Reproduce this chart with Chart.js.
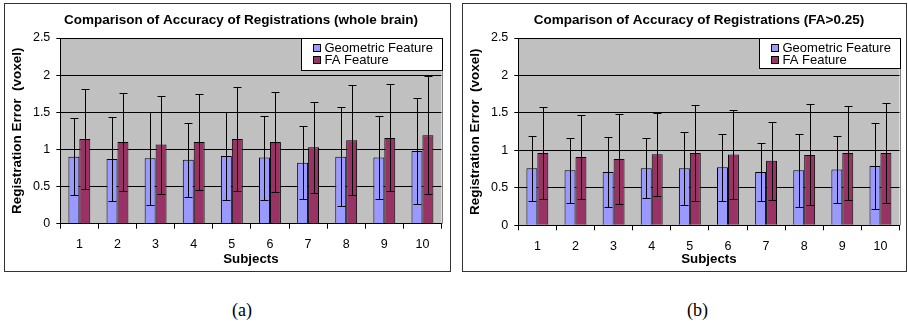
<!DOCTYPE html>
<html>
<head>
<meta charset="utf-8">
<title>Comparison of Accuracy of Registrations</title>
<script src="https://cdn.jsdelivr.net/npm/chart.js@4.4.0/dist/chart.umd.min.js"></script>
<style>
    body { margin: 0; background: #fff; width: 908px; height: 325px; position: relative; overflow: hidden; }
    .box { position: absolute; top: 3px; height: 269px; border: 1px solid #333; box-sizing: border-box; }
    .box canvas { position: absolute; left: 0; top: 0; }
    .caption { position: absolute; top: 300px; font: 18px "Liberation Serif", "Times New Roman", serif; color: #000; }
</style>
</head>
<body>
<div class="box" style="left:4px;width:447px;"><canvas id="chartA" width="445" height="267"></canvas></div>
<div class="box" style="left:462px;width:445px;"><canvas id="chartB" width="443" height="267"></canvas></div>
<div class="caption" style="left:232px;">(a)</div>
<div class="caption" style="left:687px;">(b)</div>

<script>
// --- Datos ---
const subjects = ['1', '2', '3', '4', '5', '6', '7', '8', '9', '10'];
const seriesNames = ['Geometric Feature', 'FA Feature'];

// (a) whole brain
const wholeGeoMean = [0.90, 0.87, 0.88, 0.86, 0.91, 0.89, 0.82, 0.90, 0.89, 0.98];
const wholeGeoSd   = [0.52, 0.56, 0.63, 0.50, 0.595, 0.565, 0.49, 0.665, 0.56, 0.71];
const wholeFaMean  = [1.14, 1.10, 1.065, 1.10, 1.14, 1.10, 1.03, 1.125, 1.155, 1.19];
const wholeFaSd    = [0.67, 0.655, 0.66, 0.64, 0.70, 0.67, 0.615, 0.745, 0.72, 0.795];

// (b) FA>0.25
const faGeoMean = [0.76, 0.735, 0.71, 0.76, 0.76, 0.775, 0.71, 0.735, 0.745, 0.79];
const faGeoSd   = [0.435, 0.435, 0.47, 0.40, 0.49, 0.45, 0.39, 0.49, 0.445, 0.57];
const faFaMean  = [0.965, 0.91, 0.885, 0.95, 0.965, 0.945, 0.86, 0.94, 0.965, 0.965];
const faFaSd    = [0.615, 0.565, 0.60, 0.555, 0.636, 0.60, 0.52, 0.675, 0.63, 0.665];

const yTicks = [0, 0.5, 1, 1.5, 2, 2.5];
const yTickLabels = ['0', '0.5', '1', '1.5', '2', '2.5'];

// --- Estilo ---
const colGeo = '#9999FF';
const colFA = '#993366';
const plotBg = '#C0C0C0';
const fontFam = '"Liberation Sans", Arial, sans-serif';

Chart.defaults.font.family = fontFam;
Chart.defaults.color = '#000';

// fondo gris del área de trazado + borde derecho
const plotAreaPlugin = {
    id: 'plotArea',
    beforeDraw(chart) {
        const { ctx, chartArea: a } = chart;
        ctx.save();
        ctx.fillStyle = plotBg;
        ctx.fillRect(a.left, a.top, a.right - a.left, a.bottom - a.top);
        ctx.strokeStyle = '#808080';
        ctx.lineWidth = 1;
        ctx.beginPath();
        ctx.moveTo(Math.round(a.right) + 0.5, a.top);
        ctx.lineTo(Math.round(a.right) + 0.5, a.bottom);
        ctx.stroke();
        ctx.restore();
    }
};

// barras de error (media ± desviación) usando la escala y
const errorBarPlugin = {
    id: 'errorBars',
    afterDatasetsDraw(chart) {
        const { ctx } = chart;
        const yScale = chart.scales.y;
        ctx.save();
        ctx.strokeStyle = '#000';
        ctx.lineWidth = 1;
        chart.data.datasets.forEach((ds, i) => {
            const meta = chart.getDatasetMeta(i);
            meta.data.forEach((bar, j) => {
                const m = ds.data[j], sd = ds.sd[j];
                const x = Math.round(bar.x) + 0.5;
                const yTop = Math.round(yScale.getPixelForValue(m + sd)) + 0.5;
                const yBot = Math.round(yScale.getPixelForValue(m - sd)) + 0.5;
                ctx.beginPath();
                ctx.moveTo(x, yTop); ctx.lineTo(x, yBot);
                ctx.moveTo(x - 4, yTop); ctx.lineTo(x + 4, yTop);
                ctx.moveTo(x - 4, yBot); ctx.lineTo(x + 4, yBot);
                ctx.stroke();
            });
        });
        ctx.restore();
    }
};

// título y leyenda dibujados en la posición de la figura
const titleLegendPlugin = {
    id: 'titleLegend',
    afterDraw(chart, args, opts) {
        const { ctx, chartArea: a } = chart;
        ctx.save();
        // título
        ctx.font = 'bold 13.5px ' + fontFam;
        ctx.fillStyle = '#000';
        ctx.textAlign = 'center';
        ctx.textBaseline = 'middle';
        ctx.fillText(opts.text, 236, 16);
        // leyenda
        const lw = 141, lh = opts.legendH;
        const lx = Math.round(a.right) - lw + 0.5, ly = Math.round(a.top) + 0.5;
        ctx.fillStyle = '#fff';
        ctx.fillRect(lx, ly, lw, lh);
        ctx.strokeStyle = '#000';
        ctx.lineWidth = 1;
        ctx.strokeRect(lx, ly, lw, lh);
        ctx.font = '13px ' + fontFam;
        ctx.textAlign = 'left';
        chart.data.datasets.forEach((ds, i) => {
            const cy = ly + 9.5 + i * 11.5;
            ctx.fillStyle = ds.backgroundColor;
            ctx.fillRect(lx + 12, Math.round(cy - 4) + 0.5, 7, 7);
            ctx.strokeRect(lx + 12, Math.round(cy - 4) + 0.5, 7, 7);
            ctx.fillStyle = '#000';
            ctx.fillText(ds.label, lx + 23, cy + 0.5);
        });
        ctx.restore();
    }
};

function makeChart(id, title, geoMean, geoSd, faMean, faSd, areaBottom, legendH) {
    const canvas = document.getElementById(id);
    const W = canvas.width, H = canvas.height;
    return new Chart(canvas.getContext('2d'), {
        type: 'bar',
        data: {
            labels: subjects,
            datasets: [
                { label: seriesNames[0], data: geoMean, sd: geoSd, backgroundColor: colGeo,
                  borderColor: '#000', borderWidth: 1 },
                { label: seriesNames[1], data: faMean, sd: faSd, backgroundColor: colFA,
                  borderColor: '#000', borderWidth: 1 }
            ]
        },
        options: {
            responsive: false,
            animation: false,
            devicePixelRatio: 1,
            categoryPercentage: 0.574,
            barPercentage: 1.0,
            layout: { padding: { top: 34, right: W - 436.5, left: 0, bottom: 0 } },
            plugins: {
                legend: { display: false },
                tooltip: { enabled: false },
                titleLegend: { text: title, legendH: legendH }
            },
            scales: {
                x: {
                    grid: { drawOnChartArea: false, drawTicks: true, tickLength: 5, color: '#000' },
                    border: { color: '#000' },
                    ticks: { font: { size: 12.5 }, padding: 8.5, maxRotation: 0 },
                    title: { display: true, text: 'Subjects', font: { size: 13.3, weight: 'bold' },
                             padding: { top: 0, bottom: 4 } },
                    afterFit: s => { s.height = H - areaBottom; }
                },
                y: {
                    min: 0, max: 2.5,
                    afterBuildTicks: s => { s.ticks = yTicks.map(v => ({ value: v })); },
                    grid: { color: '#000', tickLength: 4 },
                    border: { color: '#000' },
                    ticks: { font: { size: 12.5 }, padding: 6,
                             callback: (v, i) => yTickLabels[i] },
                    title: { display: true, text: 'Registration Error  (voxel)',
                             font: { size: 13.5, weight: 'bold' }, padding: { top: 3.9, bottom: 0 } },
                    afterFit: s => { s.width = 55.3; }
                }
            }
        },
        plugins: [plotAreaPlugin, errorBarPlugin, titleLegendPlugin]
    });
}

makeChart('chartA', 'Comparison of Accuracy of Registrations (whole brain)',
    wholeGeoMean, wholeGeoSd, wholeFaMean, wholeFaSd, 219.7, 32);
makeChart('chartB', 'Comparison of Accuracy of Registrations (FA>0.25)',
    faGeoMean, faGeoSd, faFaMean, faFaSd, 221.3, 30);
</script>
</body>
</html>
